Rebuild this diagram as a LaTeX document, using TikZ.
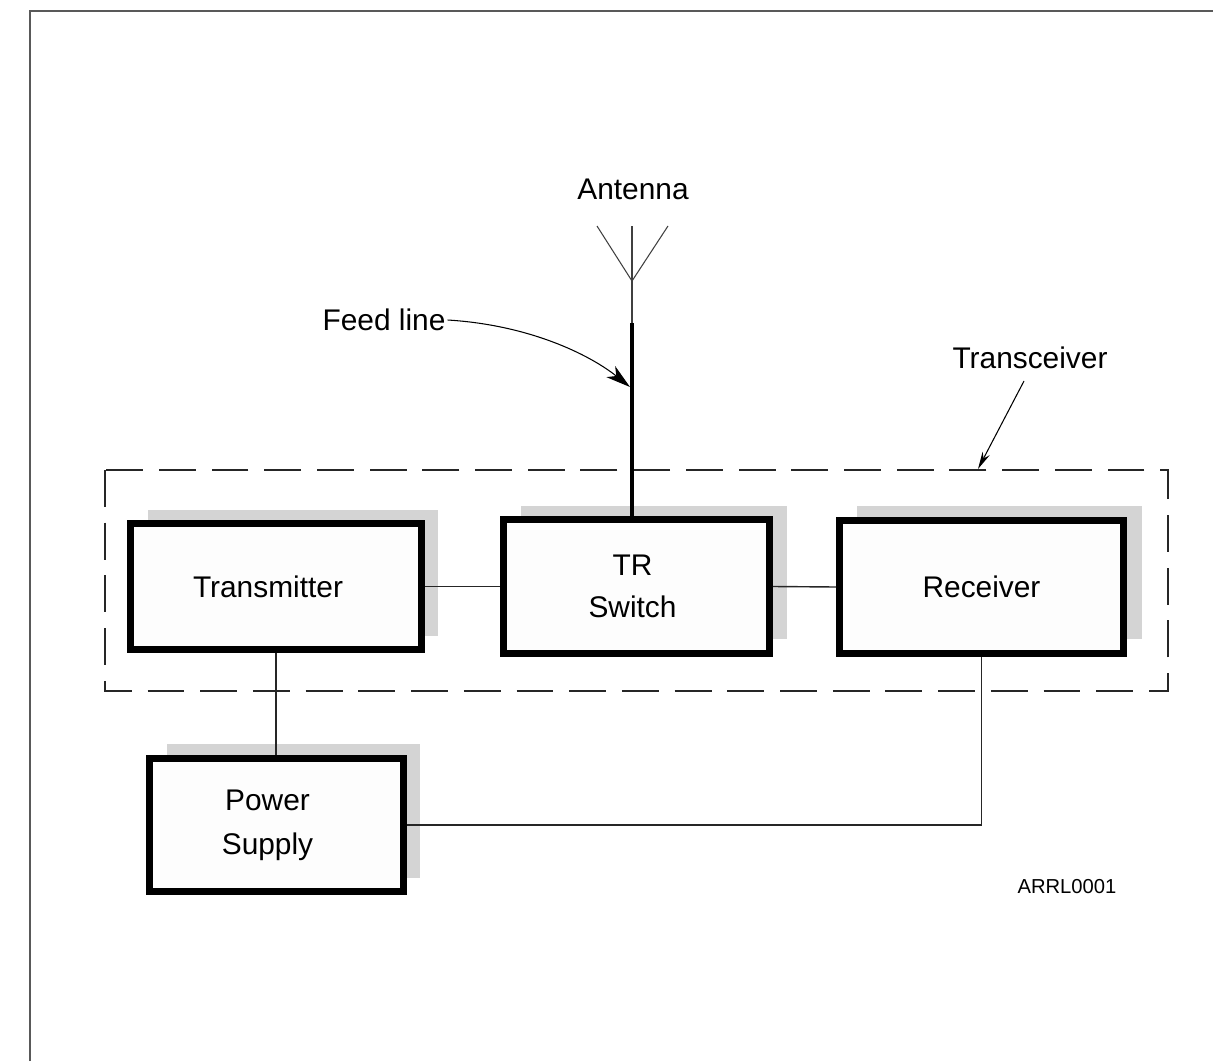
\documentclass[tikz,border=0pt]{standalone}
\usepackage{fontspec}
\setmainfont{Liberation Sans}
\usetikzlibrary{arrows.meta}
\definecolor{shadowgray}{HTML}{D4D4D4}
\definecolor{boxfill}{HTML}{FDFDFD}
\tikzset{
  blockbox/.style={draw=black, line width=4pt, fill=boxfill, align=center,
    font=\fontsize{17}{22}\selectfont, inner sep=0pt},
  shadowbox/.style={fill=shadowgray, draw=none},
  wire/.style={line width=0.8pt, black!85},
  thinwire/.style={line width=0.6pt, black!75},
  feed/.style={line width=2.2pt, black},
  container/.style={draw=black!85, line width=0.7pt, dash pattern=on 21pt off 9pt},
  lbl/.style={font=\fontsize{17}{22}\selectfont, inner sep=1pt},
  smalllbl/.style={font=\fontsize{11.5}{14}\selectfont, inner sep=1pt},
  pointer/.style={line width=0.6pt, black, -{Stealth[length=14pt, width=8pt, inset=4pt]}},
  pointerthin/.style={line width=0.6pt, black, -{Stealth[length=10pt, width=4.5pt]}},
  frameline/.style={line width=1.2pt, black!65}
}
\begin{document}
\begin{tikzpicture}[x=0.02cm, y=-0.02cm]
\useasboundingbox (0,0) rectangle (1213,1061);
% outer frame
\draw[frameline] (30,1061) -- (30,11) -- (1213,11);

% dashed transceiver container
\draw[container] (105,470) rectangle (1168,691);

% shadows
\fill[shadowbox] (148,510) rectangle (438,636);
\fill[shadowbox] (521,506) rectangle (787,639);
\fill[shadowbox] (857,506) rectangle (1142,639);
\fill[shadowbox] (167,744) rectangle (420,878);

% blocks
\node[blockbox, minimum width=5.82cm, minimum height=2.52cm] (tx) at (276,586.5) {Transmitter\hspace*{0.32cm}};
\node[blockbox, minimum width=5.32cm, minimum height=2.68cm] (tr) at (636.5,586.5) {TR\hspace*{0.16cm}\\[2pt]Switch\hspace*{0.16cm}};
\node[blockbox, minimum width=5.68cm, minimum height=2.66cm] (rx) at (981.5,587) {Receiver};
\node[blockbox, minimum width=5.08cm, minimum height=2.66cm] (ps) at (276.5,825) {Power\hspace*{0.36cm}\\[3pt]Supply\hspace*{0.36cm}};

% connections
\draw[wire] (tx.east) -- (tr.west);
\draw[wire] (tr.east) -- (rx.west);
\draw[wire] (tx.south) -- (tx.south |- ps.north);
\draw[wire] (rx.south) -- (rx.south |- ps.east) -- (ps.east);

% antenna and feed line
\coordinate (feedtop) at (632,323);
\coordinate (ant) at (632,281);
\coordinate (antl) at (597,226);
\coordinate (antc) at (632,226);
\coordinate (antr) at (668,226);
\draw[feed] (feedtop) -- (feedtop |- tr.north);
\draw[thinwire] (feedtop) -- (ant);
\draw[thinwire] (antl) -- (ant) -- (antr);
\draw[thinwire] (antc) -- (ant);
\node[lbl] (antlabel) at (633,189) {Antenna};

% feed line label
\node[lbl] (fl) at (384,320) {Feed line};
\coordinate (fltip) at (630,387);
\draw[pointer] (fl.east) .. controls (530,325) and (590,355) .. (fltip);

% transceiver label
\node[lbl] (tcv) at (1030,358) {Transceiver};
\coordinate (tcvstart) at (1024,381);
\coordinate (tcvtip) at (978,469);
\draw[pointerthin] (tcvstart) -- (tcvtip);

% figure id
\node[smalllbl] (figid) at (1067,887) {ARRL0001};
\end{tikzpicture}
\end{document}
